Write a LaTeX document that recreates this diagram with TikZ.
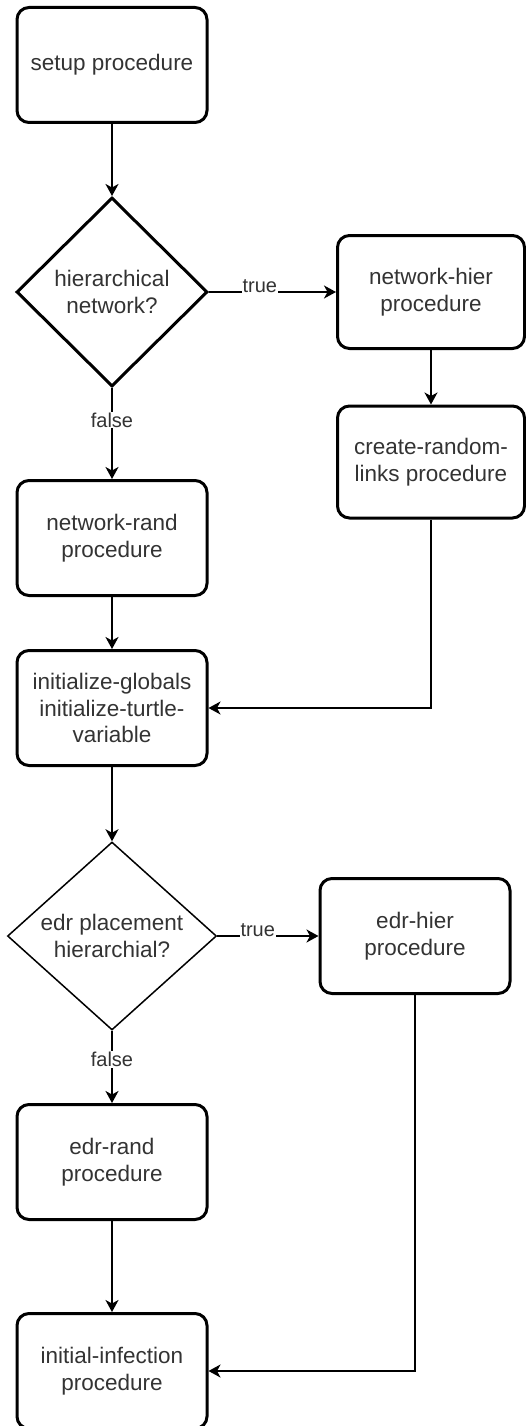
\documentclass[tikz,border=0pt]{standalone}
\usepackage{fontspec}
\setmainfont{Liberation Sans}
\usetikzlibrary{shapes.geometric,arrows.meta}

\begin{document}
\begin{tikzpicture}[x=1pt, y=-1pt,
  proc/.style={draw, line width=3pt, rounded corners=12pt, minimum width=190pt,
    minimum height=115pt, inner sep=0pt, align=center, text=black!80,
    font=\fontsize{22.5}{26.5}\selectfont},
  decide/.style={draw, diamond, line width=3pt, inner sep=0pt, align=center,
    text=black!80, font=\fontsize{22.5}{26.5}\selectfont},
  flow/.style={line width=1.8pt, -{Stealth[length=12pt,width=13pt,inset=3.5pt]}},
  tag/.style={fill=white, inner sep=1pt, text=black!80, font=\fontsize{20}{24}\selectfont}]
\useasboundingbox (0,0) rectangle (526,1426);

% left column
\node[proc] (setup) at (112,65) {setup procedure};
\node[decide, minimum width=191pt, minimum height=189pt] (hier) at (112,292) {hierarchical\\network?};
\node[proc] (netrand) at (112,538) {network-rand\\procedure};
\node[proc] (init) at (112,708) {initialize-globals\\initialize-turtle-\\variable};
\node[decide, line width=1.5pt, minimum width=209pt, minimum height=188pt] (edrq) at (112,936) {edr placement\\hierarchial?};
\node[proc] (edrrand) at (112,1162) {edr-rand\\procedure};
\node[proc] (infect) at (112,1371) {initial-infection\\procedure};

% right column
\node[proc, minimum width=187pt, minimum height=113pt] (nethier) at (431,292) {network-hier\\procedure};
\node[proc, minimum width=187pt, minimum height=112pt] (links) at (431,462) {create-random-\\links procedure};
\node[proc] (edrhier) at (415,936) {edr-hier\\procedure};

\draw[flow] (setup) -- (hier);
\draw[flow] (hier.east) -- node[tag, pos=0.4, anchor=base] {true} (nethier.west);
\draw[flow] (hier.south) -- node[tag, pos=0.35] {false} (netrand.north);
\draw[flow] (nethier) -- (links);
\draw[flow] (netrand) -- (init);
\draw[flow] (links.south) |- (init.east);
\draw[flow] (init) -- (edrq);
\draw[flow] (edrq.east) -- node[tag, pos=0.4, anchor=base] {true} (edrhier.west);
\draw[flow] (edrq.south) -- node[tag, pos=0.4] {false} (edrrand.north);
\draw[flow] (edrrand) -- (infect);
\draw[flow] (edrhier.south) |- (infect.east);
\end{tikzpicture}
\end{document}
